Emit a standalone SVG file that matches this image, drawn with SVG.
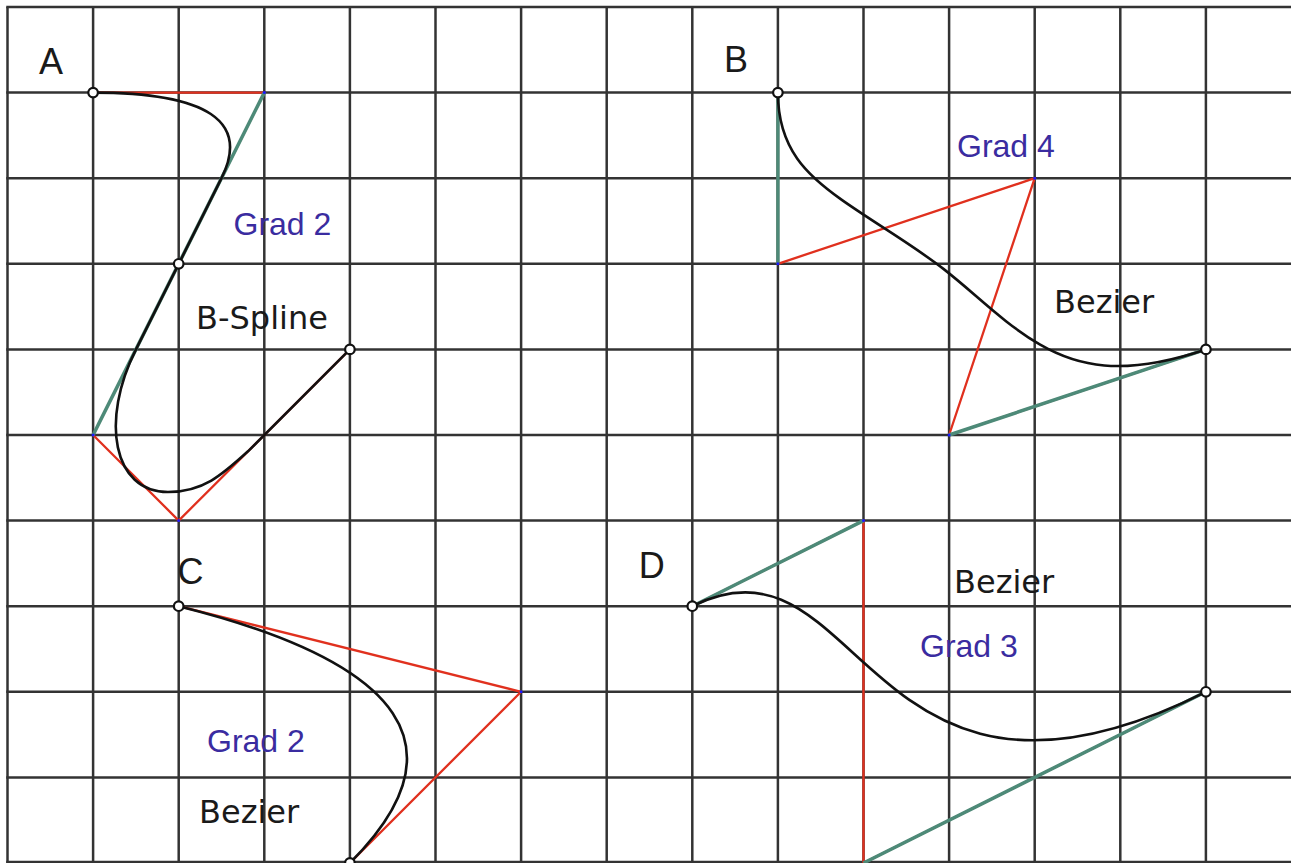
<svg xmlns="http://www.w3.org/2000/svg" width="1291" height="863" viewBox="0 0 1291 863">
<style>
.grid line{stroke:#333;stroke-width:2.5}
.poly{fill:none;stroke:#e0301e;stroke-width:2.3;stroke-linejoin:round}
.green{stroke:#4d8a78;stroke-width:3.5;fill:none}
.curve{fill:none;stroke:#111;stroke-width:2.6}
.pt{fill:#fff;stroke:#111;stroke-width:2.2}
.cp{fill:#1a1aff}
.lbl{font-family:"Liberation Sans",Arial,sans-serif;font-size:36px;fill:#1a1a1a}
.grad{font-family:"Liberation Sans",Arial,sans-serif;font-size:32px;fill:#3a2ca0}
.name{font-family:"DejaVu Sans",Verdana,sans-serif;font-size:32px;fill:#1a1a1a}
</style>
<rect width="1291" height="863" fill="#fff"/>
<g id="grid" class="grid">
<line x1="7.5" y1="7" x2="7.5" y2="863"/>
<line x1="93.1" y1="7" x2="93.1" y2="863"/>
<line x1="178.7" y1="7" x2="178.7" y2="863"/>
<line x1="264.3" y1="7" x2="264.3" y2="863"/>
<line x1="349.9" y1="7" x2="349.9" y2="863"/>
<line x1="435.5" y1="7" x2="435.5" y2="863"/>
<line x1="521.1" y1="7" x2="521.1" y2="863"/>
<line x1="606.7" y1="7" x2="606.7" y2="863"/>
<line x1="692.3" y1="7" x2="692.3" y2="863"/>
<line x1="777.9" y1="7" x2="777.9" y2="863"/>
<line x1="863.5" y1="7" x2="863.5" y2="863"/>
<line x1="949.1" y1="7" x2="949.1" y2="863"/>
<line x1="1034.7" y1="7" x2="1034.7" y2="863"/>
<line x1="1120.3" y1="7" x2="1120.3" y2="863"/>
<line x1="1205.9" y1="7" x2="1205.9" y2="863"/>
<line x1="6.25" y1="7" x2="1291" y2="7"/>
<line x1="6.25" y1="92.6" x2="1291" y2="92.6"/>
<line x1="6.25" y1="178.2" x2="1291" y2="178.2"/>
<line x1="6.25" y1="263.8" x2="1291" y2="263.8"/>
<line x1="6.25" y1="349.4" x2="1291" y2="349.4"/>
<line x1="6.25" y1="435" x2="1291" y2="435"/>
<line x1="6.25" y1="520.6" x2="1291" y2="520.6"/>
<line x1="6.25" y1="606.2" x2="1291" y2="606.2"/>
<line x1="6.25" y1="691.8" x2="1291" y2="691.8"/>
<line x1="6.25" y1="777.4" x2="1291" y2="777.4"/>
<line x1="6.25" y1="862" x2="1291" y2="862"/>
</g>
<g id="connectors">
<polyline class="poly" points="93.1,92.6 264.3,92.6 93.1,435 178.7,520.6 349.9,349.4"/>
<line class="green" x1="264.3" y1="92.6" x2="93.1" y2="435"/>
<path class="curve" d="M93.1,92.6 Q264.3,92.6 221.5,178.2 L136,349.4 C100,420.5 113,492 168,492 C203,492 222,475 248,451.3 L349.9,349.4"/>
<polyline class="poly" points="777.9,92.6 777.9,263.8 1034.7,178.2 949.1,435 1205.9,349.4"/>
<line class="green" x1="777.9" y1="92.6" x2="777.9" y2="263.8"/>
<line class="green" x1="949.1" y1="435" x2="1205.9" y2="349.4"/>
<path class="curve" d="M777.9,92.6 C777.9,149.67 808.33,176.3 841.77,199.93 C875.2,223.56 911.65,244.18 943.75,269.15 C975.85,294.12 1003.6,323.43 1039.72,344.39 C1075.83,365.34 1120.3,377.93 1205.9,349.4"/>
<polyline class="poly" points="178.7,606.2 521.1,691.8 349.9,863"/>
<path class="curve" d="M178.7,606.2 Q521.1,691.8 349.9,863"/>
<polyline class="poly" points="692.3,606.2 863.5,520.6 863.5,863 1205.9,691.8"/>
<line class="green" x1="692.3" y1="606.2" x2="863.5" y2="520.6"/>
<line class="green" x1="863.5" y1="863" x2="1205.9" y2="691.8"/>
<path class="curve" d="M692.3,606.2 C863.5,520.6 863.5,863 1205.9,691.8"/>
</g>
<g id="diagram-A">
<text class="lbl" x="39" y="74">A</text>
<text class="grad" x="233.5" y="235">Grad 2</text>
<text class="name" x="196" y="329">B-Spline</text>
<circle class="cp" cx="264.3" cy="92.6" r="1.5"/>
<circle class="cp" cx="93.1" cy="435" r="1.5"/>
<circle class="cp" cx="178.7" cy="520.6" r="1.5"/>
<circle class="pt" cx="93.1" cy="92.6" r="4.8"/>
<circle class="pt" cx="178.7" cy="263.8" r="4.8"/>
<circle class="pt" cx="349.9" cy="349.4" r="4.8"/>
</g>
<g id="diagram-B">
<text class="lbl" x="724" y="72.3">B</text>
<text class="grad" x="957" y="156.7">Grad 4</text>
<text class="name" x="1054" y="312.7">Bezier</text>
<circle class="cp" cx="777.9" cy="263.8" r="1.5"/>
<circle class="cp" cx="1034.7" cy="178.2" r="1.5"/>
<circle class="cp" cx="949.1" cy="435" r="1.5"/>
<circle class="pt" cx="777.9" cy="92.6" r="4.8"/>
<circle class="pt" cx="1205.9" cy="349.4" r="4.8"/>
</g>
<g id="diagram-C">
<text class="lbl" x="177.5" y="583.5">C</text>
<text class="grad" x="207" y="752.3">Grad 2</text>
<text class="name" x="199" y="822.7">Bezier</text>
<circle class="cp" cx="521.1" cy="691.8" r="1.5"/>
<circle class="pt" cx="178.7" cy="606.2" r="4.8"/>
<circle class="pt" cx="349.9" cy="863" r="4.8"/>
</g>
<g id="diagram-D">
<text class="lbl" x="638.8" y="577.7">D</text>
<text class="name" x="954" y="593.3">Bezier</text>
<text class="grad" x="920" y="656.7">Grad 3</text>
<circle class="cp" cx="863.5" cy="520.6" r="1.5"/>
<circle class="pt" cx="692.3" cy="606.2" r="4.8"/>
<circle class="pt" cx="1205.9" cy="691.8" r="4.8"/>
</g>
</svg>
